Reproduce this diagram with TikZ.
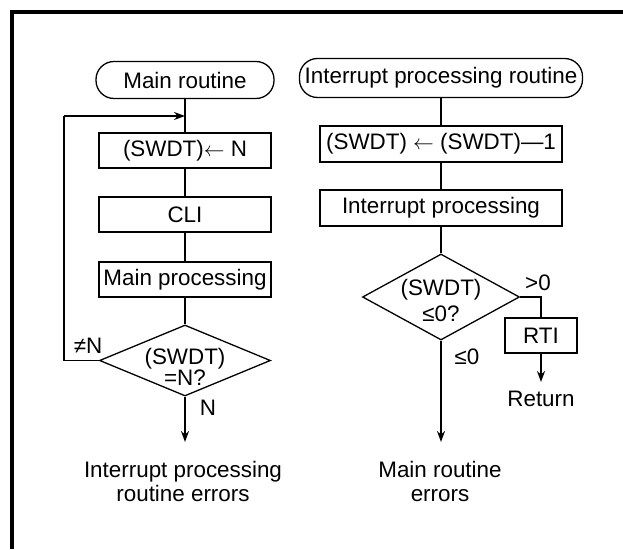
\documentclass[tikz,border=0pt]{standalone}
\usepackage{fontspec}
\setmainfont{Liberation Sans}
\usetikzlibrary{shapes.geometric,arrows.meta,positioning}

\tikzset{
  box/.style={draw, line width=1.3pt, minimum width=172pt, minimum height=35pt, inner sep=0pt},
  term/.style={draw, line width=1.3pt, rounded corners=18pt, minimum height=37pt, inner sep=0pt},
  test/.style={draw, diamond, line width=1.3pt, inner sep=0pt},
  flow/.style={line width=1.3pt},
  arr/.style={line width=2.2pt, -{Stealth[length=11pt,width=8pt]}},
}

\begin{document}
\begin{tikzpicture}[x=1pt,y=1pt,font=\fontsize{22.4}{24}\selectfont]
  \useasboundingbox (0,0) rectangle (623,549);
  \draw[line width=4pt] (12,0) |- (623,537);
  % main routine
  \node[term, minimum width=178pt] (main) at (185,469) {Main routine};
  \node[box] (setN) at (185,398.5) {(SWDT)$\leftarrow$ N};
  \node[box] (cli) at (185,334.5) {CLI};
  \node[box] (mproc) at (185,269.5) {Main processing};
  \node[test, minimum width=171pt, minimum height=71pt] (chkN) at (185,188.5) {};
  \node[align=center] (chkNtxt) at (185,182) {(SWDT)\\[-3pt]=N?};
  \draw[flow] (main) -- (setN);
  \draw[flow] (setN) -- (cli);
  \draw[flow] (cli) -- (mproc);
  \draw[flow] (mproc) -- (chkN);
  \coordinate (loopL) at (64,433);
  \coordinate (loopR) at (185,433);
  \draw[flow] (chkN.west) -| (loopL);
  \draw[arr] (loopL) -- (loopR);
  \node (neqN) at (88,203) {≠N};
  \node (yesN) at (208,141) {N};
  \coordinate (endL) at (185,107);
  \draw[arr] (chkN.south) -- (endL);
  \node[align=center] (errL) at (183,68) {Interrupt processing\\routine errors};
  % interrupt routine
  \node[term, minimum width=283pt, minimum height=39pt] (intR) at (441,471) {Interrupt processing routine};
  \node[box, minimum width=242pt, minimum height=36pt] (decS) at (441,405) {(SWDT) $\leftarrow$ (SWDT)—1};
  \node[box, minimum width=242pt, minimum height=36pt] (iproc) at (441,341) {Interrupt processing};
  \node[test, minimum width=157pt, minimum height=86pt] (chkZ) at (441,252) {};
  \node[align=center] (chkZtxt) at (441,249) {(SWDT)\\[2pt]≤0?};
  \node[box, minimum width=72pt, minimum height=35pt] (rti) at (541,213.5) {RTI};
  \draw[flow] (intR) -- (decS);
  \draw[flow] (decS) -- (iproc);
  \draw[flow] (iproc) -- (chkZ);
  \draw[flow] (chkZ.east) -| (rti.north);
  \node (gtZ) at (538,266) {>0};
  \coordinate (ret) at (541,167);
  \draw[arr] (rti) -- (ret);
  \node (retT) at (541,150) {Return};
  \node (leZ) at (467,192) {≤0};
  \coordinate (endR) at (441,107);
  \draw[arr] (chkZ.south) -- (endR);
  \node[align=center] (errR) at (440,68) {Main routine\\errors};
\end{tikzpicture}
\end{document}
